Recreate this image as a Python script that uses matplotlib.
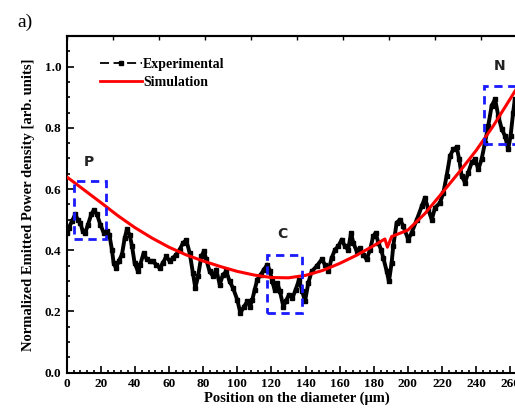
import matplotlib
matplotlib.use("Agg")
import matplotlib.pyplot as plt
from matplotlib.lines import Line2D
from matplotlib.patches import Rectangle
from matplotlib.ticker import MultipleLocator

# ---------------- data ----------------
exp_x = [0.2, 1.2, 3.1, 5.0, 6.6, 8.0, 9.4, 10.9, 12.5, 14.4, 15.8, 17.8, 19.7, 21.7,
         23.6, 25.0, 26.5, 27.5, 28.9, 30.5, 32.4, 34.0, 35.3, 36.9, 38.3, 39.8, 41.8,
         43.1, 45.1, 47.0, 49.0, 50.6, 52.5, 54.5, 56.4, 58.4, 60.4, 62.3, 64.2, 66.2,
         68.2, 70.1, 72.1, 74.0, 75.4, 77.0, 78.9, 80.5, 81.8, 83.8, 85.8, 87.7, 89.7,
         91.6, 93.6, 95.5, 97.5, 100.0, 101.8, 103.9, 105.9, 107.4, 108.8, 110.2, 111.7,
         113.7, 115.6, 117.6, 119.2, 120.5, 121.9, 123.5, 125.0, 127.0, 128.4, 130.3,
         132.3, 134.2, 136.2, 138.1, 139.7, 141.6, 143.6, 146.5, 149.5, 151.4, 153.4,
         155.3, 157.3, 159.2, 161.2, 163.1, 165.0, 166.7, 168.0, 170.0, 171.9, 173.9,
         175.8, 177.8, 179.7, 181.1, 182.7, 184.3, 185.6, 187.6, 188.9, 190.5, 191.4,
         193.4, 195.4, 197.3, 200.2, 202.2, 205.2, 208.1, 210.0, 212.0, 214.0, 215.9,
         218.8, 220.8, 222.7, 224.7, 226.6, 228.6, 230.1, 231.5, 233.5, 235.4, 237.4,
         239.3, 241.3, 243.2, 245.2, 247.1, 249.1, 251.1, 253.0, 255.0, 256.9, 258.8,
         260.2, 261.7, 262.7]
exp_y = [0.457, 0.473, 0.495, 0.517, 0.500, 0.490, 0.462, 0.457, 0.484, 0.517, 0.531,
         0.517, 0.484, 0.457, 0.462, 0.451, 0.402, 0.359, 0.342, 0.364, 0.386, 0.440,
         0.468, 0.451, 0.413, 0.359, 0.331, 0.353, 0.391, 0.370, 0.364, 0.364, 0.353,
         0.342, 0.359, 0.380, 0.364, 0.375, 0.386, 0.402, 0.424, 0.433, 0.391, 0.326,
         0.277, 0.315, 0.380, 0.397, 0.370, 0.331, 0.315, 0.337, 0.288, 0.320, 0.331,
         0.298, 0.277, 0.238, 0.195, 0.216, 0.233, 0.216, 0.238, 0.271, 0.304, 0.320,
         0.337, 0.353, 0.331, 0.298, 0.271, 0.293, 0.266, 0.216, 0.233, 0.255, 0.244,
         0.271, 0.304, 0.266, 0.233, 0.293, 0.331, 0.348, 0.370, 0.353, 0.331, 0.375,
         0.402, 0.413, 0.435, 0.413, 0.402, 0.457, 0.424, 0.397, 0.408, 0.386, 0.370,
         0.402, 0.446, 0.457, 0.424, 0.402, 0.375, 0.331, 0.298, 0.360, 0.413, 0.490,
         0.500, 0.479, 0.435, 0.457, 0.500, 0.544, 0.572, 0.533, 0.500, 0.539, 0.555,
         0.588, 0.643, 0.708, 0.730, 0.736, 0.697, 0.643, 0.621, 0.654, 0.687, 0.697,
         0.665, 0.697, 0.752, 0.807, 0.872, 0.894, 0.839, 0.796, 0.774, 0.730, 0.774,
         0.850, 0.894]

sim_x = [0, 10, 20, 30, 40, 50, 60, 70, 80, 90, 100, 110, 120, 130, 140, 150, 160,
         170, 180, 186.5, 188, 190.5, 200, 210, 220, 230, 240, 250, 260, 265]
sim_y = [0.640, 0.598, 0.556, 0.513, 0.474, 0.440, 0.410, 0.385, 0.365, 0.347, 0.331,
         0.319, 0.311, 0.310, 0.318, 0.334, 0.357, 0.384, 0.415, 0.437, 0.410, 0.445,
         0.466, 0.520, 0.587, 0.655, 0.726, 0.806, 0.895, 0.94]

box_names = ["P", "C", "N"]
box_x0 = [4.0, 117.6, 244.6]
box_x1 = [23.0, 138.1, 266.0]
box_y0 = [0.436, 0.195, 0.747]
box_y1 = [0.626, 0.386, 0.936]
label_x = [13.2, 126.4, 254.0]
label_y = [0.665, 0.430, 0.980]

xlim = (0, 270)
ylim = (0, 1.1)

# ---------------- figure ----------------
plt.rcParams['font.family'] = ['Liberation Serif', 'DejaVu Serif']
plt.rcParams['mathtext.fontset'] = 'stix'

fig = plt.figure(figsize=(5.15, 4.15), dpi=100)
ax = fig.add_axes([0.1295, 0.1019, 0.8944, 0.8113])

ax.plot(exp_x, exp_y, color='black', lw=2.8, marker='s', ms=3, zorder=2)
ax.plot(sim_x, sim_y, color='#ff0000', lw=2.2, zorder=3)

for nm, x0, x1, y0, y1, lx, ly in zip(box_names, box_x0, box_x1, box_y0, box_y1,
                                      label_x, label_y):
    ax.add_patch(Rectangle((x0, y0), x1 - x0, y1 - y0, fill=False,
                           edgecolor='#1a1aff', lw=2.0, linestyle=(0, (3, 2)),
                           zorder=4))
    ax.text(lx, ly, nm, family='DejaVu Sans', fontweight='bold', fontsize=10,
            ha='center', va='bottom', color='#222222')

ax.set_xlim(*xlim)
ax.set_ylim(*ylim)
ax.xaxis.set_major_locator(MultipleLocator(20))
ax.xaxis.set_minor_locator(MultipleLocator(4))
ax.yaxis.set_major_locator(MultipleLocator(0.2))
ax.yaxis.set_minor_locator(MultipleLocator(0.05))
ax.tick_params(which='both', direction='in', top=False, right=False, width=1.2)
ax.tick_params(which='major', length=5, labelsize=9.5, pad=4)
ax.tick_params(which='minor', length=2.5)
ax.set_yticks([0, 0.2, 0.4, 0.6, 0.8, 1.0])
ax.set_yticklabels(['0.0', '0.2', '0.4', '0.6', '0.8', '1.0'])
for lbl in ax.get_xticklabels() + ax.get_yticklabels():
    lbl.set_fontweight('bold')

sec = ax.secondary_xaxis('top')
sec.set_xticks([27 * i for i in range(11)])
sec.tick_params(direction='in', length=3, width=1.0, labeltop=False)
sec.spines['top'].set_linewidth(1.5)

for s in ['left', 'bottom', 'top']:
    ax.spines[s].set_linewidth(1.5)

ax.set_xlabel('Position on the diameter (\u03bcm)', fontsize=10.5, fontweight='bold',
              labelpad=1)
ax.set_ylabel('Normalized Emitted Power density [arb. units]', fontsize=10.5,
              fontweight='bold', labelpad=7)

h_exp = Line2D([], [], color='black', lw=1.3, linestyle=(0, (5, 2.5)), marker='s', ms=3.5,
               markevery=[1])
h_exp.set_xdata([0, 0.5, 1])
h_sim = Line2D([], [], color='#ff0000', lw=2.0)
leg = ax.legend([h_exp, h_sim], ['Experimental', 'Simulation'], loc='upper left',
                bbox_to_anchor=(0.072, 0.935), frameon=False, borderpad=0,
                borderaxespad=0, handlelength=3.0, handletextpad=0.1,
                labelspacing=0.35, prop={'weight': 'bold', 'size': 10})

fig.text(0.048, 0.945, 'a)', fontsize=14, ha='center', va='center')

fig.savefig('out.png', dpi=100)
